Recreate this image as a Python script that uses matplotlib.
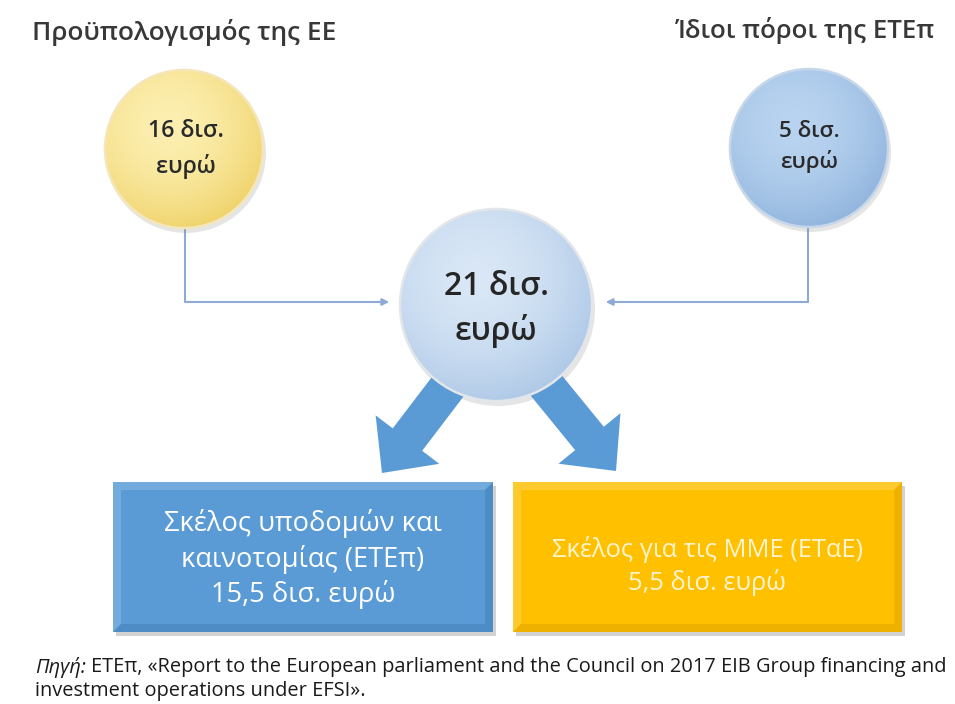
import numpy as np
import matplotlib
matplotlib.use("Agg")
import matplotlib.pyplot as plt
import matplotlib.patches as mpatches
from matplotlib.colors import to_rgb

plt.rcParams['font.family'] = ['Open Sans', 'DejaVu Sans']

# data
source_names = ["Προϋπολογισμός της ΕΕ", "Ίδιοι πόροι της ΕΤΕπ"]
source_values = [16, 5]
total_value = 21
strand_names = ["Σκέλος υποδομών και\nκαινοτομίας (ΕΤΕπ)", "Σκέλος για τις ΜΜΕ (ΕΤαΕ)"]
strand_values = [15.5, 5.5]
unit = "δισ. ευρώ"
source_note = ["Πηγή:",
               "ΕΤΕπ, «Report to the European parliament and the Council on 2017 EIB Group financing and",
               "investment operations under EFSI»."]

W, H = 955, 704
fig = plt.figure(figsize=(W / 100, H / 100), dpi=100)
ax = fig.add_axes([0, 0, 1, 1])
ax.set_xlim(0, W)
ax.set_ylim(H, 0)
ax.axis('off')
renderer = fig.canvas.get_renderer()


def fmt(v):
    return f"{v:g}".replace(".", ",")


def fit(t, target_w):
    # scale font so the text is target_w pixels wide
    bb = t.get_window_extent(renderer)
    t.set_fontsize(t.get_fontsize() * target_w / bb.width)
    return t


def ball(cx, cy, r, inner, outer, rim):
    ax.add_patch(mpatches.Circle((cx + 2, cy + 4), r + 1, color='#808080', alpha=0.2, lw=0, zorder=2))
    n = 300
    X, Y = np.meshgrid(np.linspace(cx - r, cx + r, n), np.linspace(cy - r, cy + r, n))
    d = np.clip(np.hypot(X - (cx - 0.2 * r), Y - (cy - 0.3 * r)) / (1.35 * r), 0, 1)
    c0, c1 = np.array(to_rgb(inner)), np.array(to_rgb(outer))
    img = c0 + (c1 - c0) * (d[..., None] ** 1.8)
    circ = mpatches.Circle((cx, cy), r, fc='none', ec=rim, lw=1.8, zorder=4)
    ax.add_patch(circ)
    im = ax.imshow(img, extent=(cx - r, cx + r, cy + r, cy - r), zorder=3,
                   interpolation='bilinear', aspect='auto')
    im.set_clip_path(circ)


def bevel_box(x0, y0, x1, y1, face, light, dark, b=8):
    ax.add_patch(mpatches.Rectangle((x0 + 3, y0 + 4), x1 - x0, y1 - y0, color='#7f7f7f', alpha=0.35, lw=0, zorder=2))
    ax.add_patch(mpatches.Rectangle((x0, y0), x1 - x0, y1 - y0, color=face, lw=0, zorder=3))
    bands = [([(x0, y0), (x1, y0), (x1 - b, y0 + b), (x0 + b, y0 + b)], light),
             ([(x0, y0), (x0 + b, y0 + b), (x0 + b, y1 - b), (x0, y1)], light),
             ([(x0, y1), (x0 + b, y1 - b), (x1 - b, y1 - b), (x1, y1)], dark),
             ([(x1, y0), (x1, y1), (x1 - b, y1 - b), (x1 - b, y0 + b)], dark)]
    for pts, c in bands:
        ax.add_patch(mpatches.Polygon(pts, closed=True, color=c, lw=0, alpha=0.6, zorder=3.5))


# titles
fit(ax.text(184, 32, source_names[0], ha='center', va='center', color='#383838',
            fontsize=16, fontweight='semibold'), 305)
fit(ax.text(805, 31, source_names[1], ha='center', va='center', color='#383838',
            fontsize=16, fontweight='semibold'), 260)

# source circles and total circle
ball(184, 149, 79, '#fcefb0', '#f0d36c', '#f4e6b8')
fit(ax.text(186, 149, f"{source_values[0]} δισ.\nευρώ", ha='center', va='center', color='#2a2a2a',
            fontsize=13, fontweight='semibold', linespacing=1.55), 76)
ball(809, 148, 79, '#b9d4f0', '#92b5de', '#c6d7ea')
fit(ax.text(809, 147, f"{source_values[1]} δισ.\nευρώ", ha='center', va='center', color='#2a2a2a',
            fontsize=12, fontweight='semibold', linespacing=1.4), 61)
ball(496, 305, 96, '#d9e7f6', '#afc9e7', '#e2e6ea')
fit(ax.text(496, 309, f"{total_value} δισ.\nευρώ", ha='center', va='center', color='#262626',
            fontsize=20, fontweight='semibold', linespacing=1.45), 105)

# connectors into the total
line_c = '#8ea9d3'
ax.plot([185, 185, 380], [229, 302, 302], color=line_c, lw=1.5, zorder=1)
ax.annotate("", xy=(392, 302), xytext=(378, 302),
            arrowprops=dict(arrowstyle='-|>', color=line_c, lw=1.5, mutation_scale=10), zorder=1)
ax.plot([808, 808, 615], [229, 302, 302], color=line_c, lw=1.5, zorder=1)
ax.annotate("", xy=(603, 302), xytext=(617, 302),
            arrowprops=dict(arrowstyle='-|>', color=line_c, lw=1.5, mutation_scale=10), zorder=1)

# split arrows
arrow_c = '#5b9bd5'
ax.add_patch(mpatches.FancyArrow(462, 368, 382 - 462, 473 - 368, width=37, head_width=80, head_length=42,
                                 length_includes_head=True, color=arrow_c, lw=0, zorder=2.5))
ax.add_patch(mpatches.FancyArrow(532, 368, 616 - 532, 471 - 368, width=37, head_width=80, head_length=42,
                                 length_includes_head=True, color=arrow_c, lw=0, zorder=2.5))

# strand boxes
bevel_box(113, 482, 493, 632, '#5b9bd5', '#86b6e4', '#4683bd')
fit(ax.text(303, 559, f"{strand_names[0]}\n{fmt(strand_values[0])} {unit}", ha='center', va='center',
            color='white', fontsize=17, fontweight='medium', linespacing=1.3), 278)
bevel_box(513, 482, 902, 632, '#ffc000', '#ffd24d', '#e3a800')
fit(ax.text(707, 566, f"{strand_names[1]}\n{fmt(strand_values[1])} {unit}", ha='center', va='center',
            color='#fff4d2', fontsize=17, fontweight='medium', linespacing=1.25), 311)

# source note
probe = ax.text(35, 667, source_note[0] + " " + source_note[1], fontsize=11)
fs = fit(probe, 913).get_fontsize()
probe.remove()
t0 = ax.text(35, 667, source_note[0], fontsize=fs, style='italic', va='center', color='#1a1a1a')
w0 = t0.get_window_extent(renderer).width
ax.text(35 + w0 + fs * 0.35, 667, source_note[1], fontsize=fs, va='center', color='#1a1a1a')
ax.text(35, 691, source_note[2], fontsize=fs, va='center', color='#1a1a1a')

ax.set_xlim(0, W)
ax.set_ylim(H, 0)
fig.savefig("out.png", dpi=100, facecolor='white')
